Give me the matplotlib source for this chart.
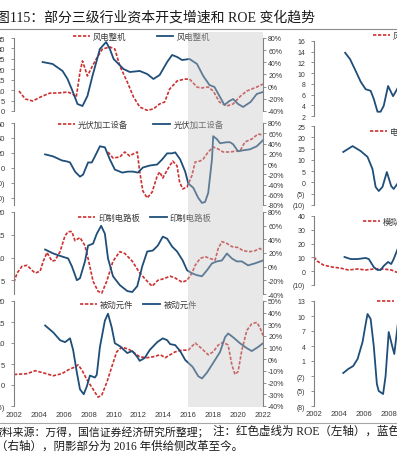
import matplotlib
matplotlib.use('Agg')
import matplotlib.pyplot as plt
from matplotlib.lines import Line2D
from matplotlib.patches import Rectangle
from matplotlib.transforms import blended_transform_factory
from matplotlib.ticker import FuncFormatter

# ---- data (year, value) ----
# left column: ROE (left axis, red dashed) and capex growth % (right axis, blue)
wind_roe_x = [2002.4, 2002.9, 2003.5, 2004.3, 2004.9, 2005.5, 2006.3, 2006.7, 2007.0, 2007.3,
              2007.5, 2007.9, 2008.3, 2008.7, 2009.1, 2009.7, 2010.1, 2010.5, 2011.1, 2011.6,
              2012.1, 2012.7, 2013.2, 2013.7, 2014.1, 2014.5, 2015.1, 2015.7, 2016.1, 2016.7,
              2017.0, 2017.6, 2018.0, 2018.5, 2019.1, 2019.6, 2020.2, 2020.7, 2021.5, 2022.0]
wind_roe = [9.6, 5.8, 4.8, 7.2, 8.6, 8.6, 9.1, 8.2, 6.7, 18.7,
            24.0, 16.8, 21.6, 25.9, 29.7, 30.7, 29.7, 21.6, 13.9, 6.7,
            1.9, 0.3, 1.0, 3.4, 4.3, 10.5, 14.4, 15.3, 15.3, 11.5,
            11.0, 11.5, 9.6, 4.3, 2.4, 3.4, 7.2, 9.6, 11.5, 12.9]
wind_capex_x = [2004.3, 2005.1, 2005.9, 2006.3, 2006.7, 2007.1, 2007.5, 2007.9, 2008.3, 2008.9,
                2009.4, 2009.7, 2010.0, 2010.4, 2010.8, 2011.3, 2012.1, 2012.7, 2013.2, 2013.7,
                2014.3, 2014.7, 2015.1, 2015.5, 2016.1, 2016.7, 2017.2, 2017.7, 2018.1, 2018.5,
                2018.9, 2019.3, 2019.6, 2020.0, 2020.4, 2021.0, 2021.5, 2022.0]
wind_capex = [40.5, 37.3, 25.8, 12.6, -7.1, -28.5, -31.8, -15.3, 17.5, 61.9,
              73.4, 61.9, 45.5, 37.3, 29.0, 24.1, 25.8, 20.8, 12.6, 19.2,
              40.5, 52.1, 48.8, 43.8, 45.5, 37.3, 17.5, 2.7, -0.5, -15.3,
              -30.1, -23.6, -20.3, -28.5, -33.4, -25.2, -12.0, -8.8]

pv_roe_x = [2009.55, 2009.95, 2010.5, 2010.9, 2011.3, 2011.55, 2011.9, 2012.1, 2012.35, 2012.7,
            2013.1, 2013.5, 2013.7, 2013.95, 2014.35, 2014.75, 2015.1, 2015.3, 2015.55, 2015.9,
            2016.3, 2016.55, 2016.95, 2017.2, 2017.6, 2018.0, 2018.4, 2018.8, 2019.35, 2019.9,
            2020.15, 2020.55, 2021.1, 2021.6, 2022.0]
pv_roe = [21.1, 13.1, 14.4, 21.1, 15.7, 18.4, 21.1, -5.7, -31.2, -40.6,
          -32.5, -11.1, -5.7, -13.8, -1.7, 9.0, 2.3, -19.1, -28.5, -25.8,
          -10.0, 7.7, 9.0, 11.7, 21.1, 27.8, 25.1, 21.1, 21.1, 22.5,
          22.5, 34.5, 38.5, 45.2, 43.9]
pv_capex_x = [2004.5, 2005.15, 2005.85, 2006.25, 2006.5, 2006.9, 2007.3, 2007.55, 2007.95, 2008.25,
              2008.5, 2008.9, 2009.3, 2009.7, 2010.1, 2010.7, 2011.15, 2011.55, 2011.95, 2012.35,
              2012.9, 2013.5, 2013.9, 2014.3, 2014.7, 2014.95, 2015.35, 2015.75, 2016.0, 2016.4,
              2016.8, 2017.1, 2017.35, 2017.6, 2017.9, 2018.0, 2018.3, 2018.55, 2019.1, 2019.35,
              2019.6, 2020.0, 2020.4, 2020.95, 2021.5, 2022.0]
pv_capex = [18.8, 14.8, 6.9, 5.0, 3.0, -14.8, -24.7, -20.7, 3.0, 3.0,
            14.8, 34.6, 32.6, 8.9, -10.9, -16.8, -14.8, -14.8, -16.8, -6.9,
            -3.0, -1.0, 8.9, 20.8, 20.8, 22.7, 8.9, -14.8, -38.0, -46.4,
            -66.2, -76.0, -74.1, -56.3, 8.9, 54.3, 48.4, 40.5, 42.5, 42.5,
            38.5, 24.7, 26.7, 28.6, 34.6, 46.4]

pcb_roe_x = [2002.0, 2002.25, 2002.65, 2003.05, 2003.45, 2003.7, 2004.1, 2004.35, 2004.65, 2005.05,
             2005.3, 2005.7, 2006.1, 2006.35, 2006.65, 2006.9, 2007.3, 2007.7, 2007.95, 2008.35,
             2008.75, 2009.05, 2009.45, 2009.95, 2010.5, 2010.9, 2011.5, 2012.1, 2012.7, 2013.1,
             2013.55, 2013.95, 2014.55, 2014.95, 2015.5, 2015.9, 2016.3, 2016.55, 2016.95, 2017.35,
             2017.75, 2018.15, 2018.4, 2018.7, 2019.1, 2019.5, 2020.0, 2020.4, 2020.95, 2021.35,
             2021.75, 2022.0]
pcb_roe = [4.6, 6.6, 8.1, 8.3, 7.2, 6.6, 7.0, 9.2, 11.1, 9.2,
           9.4, 11.3, 14.8, 15.7, 15.7, 13.7, 14.4, 12.6, 9.8, 4.8,
           2.6, 2.2, 4.8, 9.2, 11.3, 10.9, 9.2, 6.6, 4.8, 3.7,
           5.0, 5.3, 5.9, 5.5, 4.6, 5.0, 6.6, 8.3, 9.8, 10.2,
           9.8, 9.4, 12.0, 13.5, 13.1, 12.4, 12.2, 11.5, 11.3, 11.5,
           12.0, 11.5]
pcb_capex_x = [2004.5, 2005.15, 2005.85, 2006.35, 2006.65, 2007.05, 2007.3, 2007.7, 2007.95, 2008.35,
               2008.65, 2009.0, 2009.3, 2009.55, 2009.95, 2010.5, 2011.1, 2011.5, 2011.9, 2012.3,
               2012.7, 2013.15, 2013.55, 2013.95, 2014.3, 2014.7, 2015.1, 2015.55, 2015.9, 2016.3,
               2016.7, 2017.1, 2017.5, 2017.9, 2018.3, 2018.7, 2019.1, 2019.5, 2019.9, 2020.3,
               2020.8, 2021.35, 2022.0]
pcb_capex = [25.1, 19.3, 14.9, 12.0, 0.5, -19.8, -16.9, 7.7, 30.8, 33.7,
             48.2, 59.8, 48.2, 12.0, -14.0, -27.0, -35.7, -37.1, -28.5, 0.5,
             22.2, 23.6, 30.8, 43.9, 41.0, 29.4, 22.2, 9.1, -5.3, -9.7,
             -12.5, -14.0, -5.3, 4.8, 7.7, 9.1, 19.3, 12.0, 7.7, 7.7,
             1.9, 4.8, 9.1]

pas_roe_x = [2002.0, 2003.05, 2003.7, 2004.35, 2005.15, 2005.85, 2006.35, 2006.9, 2007.15, 2007.45,
             2007.85, 2008.35, 2008.75, 2009.05, 2009.45, 2009.85, 2010.25, 2010.65, 2011.15, 2011.55,
             2012.1, 2012.7, 2013.15, 2013.75, 2014.15, 2014.55, 2014.95, 2015.5, 2016.0, 2016.55,
             2016.95, 2017.35, 2017.6, 2018.0, 2018.4, 2018.8, 2019.2, 2019.5, 2019.75, 2020.0,
             2020.3, 2020.7, 2021.1, 2021.5, 2021.75, 2022.0]
pas_roe = [2.5, 2.7, 3.4, 2.9, 2.2, 2.7, 3.6, 4.3, 4.8, 3.6,
           1.3, -1.0, -2.9, -2.4, 0.6, 4.3, 7.9, 9.0, 8.6, 7.9,
           6.7, 6.5, 6.7, 7.2, 6.5, 7.2, 7.9, 8.3, 8.3, 10.0,
           9.0, 7.9, 7.2, 7.9, 9.5, 10.2, 9.5, 4.8, 2.5, 3.2,
           8.3, 13.0, 14.6, 14.9, 13.7, 11.8]
pas_capex_x = [2004.5, 2005.15, 2005.7, 2006.1, 2006.5, 2006.75, 2007.05, 2007.3, 2007.6, 2007.85,
               2008.1, 2008.5, 2008.65, 2008.9, 2009.3, 2009.55, 2009.85, 2010.1, 2010.5, 2011.1,
               2011.5, 2011.9, 2012.1, 2012.5, 2012.9, 2013.5, 2013.95, 2014.3, 2014.55, 2014.95,
               2015.35, 2015.75, 2016.35, 2016.8, 2017.1, 2017.5, 2018.0, 2018.55, 2018.95, 2019.2,
               2019.6, 2020.15, 2020.7, 2021.1, 2021.6, 2022.0]
pas_capex = [29.0, 23.1, 16.4, 14.7, 18.0, 8.0, -11.4, -25.7, -29.9, -23.2,
             -13.9, -15.6, -13.1, 10.5, 33.2, 39.1, 27.3, 13.8, 11.3, 5.4,
             7.1, 2.1, -1.3, 1.2, 8.0, 14.7, 18.0, 16.4, 13.0, 12.2,
             7.0, -0.5, -6.5, -14.5, -16.4, -11.4, -3.0, 6.3, 18.9, 22.2,
             18.9, 13.8, 9.6, 7.1, 10.5, 13.8]

# right column (cut off at the picture edge)
rc1_capex_x = [2004.5, 2004.9, 2005.35, 2005.75, 2006.15, 2006.55, 2006.8, 2007.1, 2007.35, 2007.6,
               2007.95, 2008.35, 2008.6, 2008.8]
rc1_capex = [13.8, 12.6, 10.4, 8.4, 7.0, 6.7, 5.2, 2.8, 2.8, 3.9, 7.6, 5.7, 6.7, 7.6]
rc2_capex_x = [2004.35, 2005.1, 2005.75, 2006.3, 2006.7, 2006.95, 2007.2, 2007.5, 2007.85, 2008.2,
               2008.4, 2008.8]
rc2_capex = [13.5, 16.1, 13.9, 11.3, 5.9, -2.0, -3.8, -2.0, 4.6, -1.6, -2.9, 0.2]
rc3_roe_x = [2002.0, 2002.25, 2002.75, 2003.45, 2004.1, 2004.75, 2005.5, 2006.15, 2006.8, 2007.55,
             2008.2, 2008.6, 2008.8]
rc3_roe = [10.3, 7.4, 4.5, 3.0, 2.3, 0.9, 1.6, 0.9, 1.6, 1.6, 0.9, -0.6, -1.0]
rc3_capex_x = [2004.45, 2004.95, 2005.5, 2006.15, 2006.4, 2006.8, 2007.1, 2007.35, 2007.6, 2007.95,
               2008.2, 2008.4, 2008.75]
rc3_capex = [10.3, 8.8, 8.8, 9.6, 8.8, 3.0, 0.9, 0.9, 3.8, 6.7, 5.2, 8.8, 16.8]
rc4_capex_x = [2004.35, 2004.75, 2005.15, 2005.5, 2005.9, 2006.15, 2006.3, 2006.55, 2006.8, 2007.05,
               2007.2, 2007.55, 2007.75, 2008.0, 2008.3, 2008.45, 2008.75]
rc4_capex = [-1.4, -0.6, 0.0, 1.4, 4.8, 8.4, 10.4, 9.4, 4.0, -3.6, -5.0, -5.6, -2.0, 6.8, 3.8, 2.4, 8.8]

years = list(range(2002, 2023, 2))

W, H = 397, 464
RED = '#cc3030'
BLUE = '#1f4e79'
TXT = '#3a3a3a'
SPINE = '#808080'
MIXED = ['Liberation Serif', 'Noto Sans CJK SC']

plt.rcParams['font.family'] = ['Liberation Sans', 'Noto Sans CJK SC']
fig = plt.figure(figsize=(W / 100, H / 100), dpi=100)


def box(x0, x1, top, bottom):
    # pixel box -> figure fraction
    return [x0 / W, 1 - bottom / H, (x1 - x0) / W, (bottom - top) / H]


def paren(v, pos):
    return '({:g})'.format(-v) if v < 0 else '{:g}'.format(v)


def pct(v, pos):
    return '{:.0f}%'.format(v)


def clean(ax, side):
    for s in ('top', 'bottom', 'left', 'right'):
        ax.spines[s].set_visible(s == side)
    ax.spines[side].set_color(SPINE)
    ax.spines[side].set_linewidth(0.8)
    ax.patch.set_visible(False)


def left_panel(top, bottom, roe_x, roe, capex_x, capex, name, lylim, lticks,
               rylim, rticks, leg, colsp, xlabels=False):
    ax = fig.add_axes(box(14, 263, top, bottom))
    ax2 = ax.twinx()
    l1, = ax.plot(roe_x, roe, color=RED, lw=1.2, ls=(0, (2.0, 1.0)))
    l2, = ax2.plot(capex_x, capex, color=BLUE, lw=1.3)
    ax.set_xlim(2002, 2022)
    ax.set_ylim(*lylim)
    ax.set_yticks(lticks)
    ax.yaxis.set_major_formatter(FuncFormatter(paren))
    ax2.set_ylim(*rylim)
    ax2.set_yticks(rticks)
    ax2.yaxis.set_major_formatter(FuncFormatter(pct))
    clean(ax, 'left')
    clean(ax2, 'right')
    ax.tick_params(axis='y', length=2.2, width=0.6, color=SPINE, pad=4.3,
                   labelsize=5.5, labelcolor=TXT)
    ax2.tick_params(axis='y', length=2.2, width=0.6, color=SPINE, pad=1.5,
                    labelsize=5, labelcolor=TXT)
    ax.set_xticks(years)
    ax.tick_params(axis='x', length=0, pad=3.6, labelsize=5.5, labelcolor=TXT,
                   labelbottom=xlabels)
    ax2.legend([l1, l2], [name, name], loc='center left', bbox_to_anchor=leg,
               ncol=2, frameon=False, fontsize=6, handlelength=2.0,
               handletextpad=0.4, columnspacing=colsp, borderpad=0,
               borderaxespad=0, labelcolor=TXT)
    return ax


def right_panel(top, bottom, ylim, ticks, name, leg, capex_x, capex,
                roe_x=None, roe=None, xlabels=False):
    ax = fig.add_axes(box(314, 563, top, bottom))
    if roe_x is not None:
        ax.plot(roe_x, roe, color=RED, lw=1.2, ls=(0, (2.0, 1.0)))
    l2, = ax.plot(capex_x, capex, color=BLUE, lw=1.3)
    red = Line2D([], [], color=RED, lw=1.2, ls=(0, (2.0, 1.0)))
    ax.set_xlim(2002, 2022)
    ax.set_ylim(*ylim)
    ax.set_yticks(ticks)
    ax.yaxis.set_major_formatter(FuncFormatter(paren))
    clean(ax, 'left')
    ax.tick_params(axis='y', length=2.2, width=0.6, color=SPINE, pad=4,
                   labelsize=5, labelcolor=TXT)
    ax.set_xticks(years)
    ax.tick_params(axis='x', length=0, pad=3.0, labelsize=5.5, labelcolor=TXT,
                   labelbottom=xlabels)
    ax.legend([red, l2], [name, name], loc='center left', bbox_to_anchor=leg,
              ncol=2, frameon=False, fontsize=6, handlelength=2.0,
              handletextpad=0.4, columnspacing=1.5, borderpad=0,
              borderaxespad=0, labelcolor=TXT)
    return ax


left_panel(39, 112, wind_roe_x, wind_roe, wind_capex_x, wind_capex, '风电整机',
           (0, 35), range(0, 36, 5), (-40, 80), range(-40, 81, 20), (0.237, 1.01), 3.6)
left_panel(124, 206, pv_roe_x, pv_roe, pv_capex_x, pv_capex, '光伏加工设备',
           (-50, 60), range(-40, 61, 20), (-80, 80), range(-80, 81, 20), (0.177, 0.976), 3.0)
left_panel(213, 295, pcb_roe_x, pcb_roe, pcb_capex_x, pcb_capex, '印制电路板',
           (2, 20), range(5, 21, 5), (-40, 80), range(-40, 81, 20), (0.257, 0.928), 1.2)
ax4 = left_panel(302, 407, pas_roe_x, pas_roe, pas_capex_x, pas_capex, '被动元件',
                 (-5, 20), range(-5, 21, 5), (-40, 50), range(-40, 51, 10), (0.265, 0.962), 1.2,
                 xlabels=True)

right_panel(42, 117, (2, 16), range(2, 17, 2), '风电零部件', (0.237, 1.07),
            rc1_capex_x, rc1_capex)
right_panel(127, 206, (-10, 25), range(-10, 26, 5), '电池化学品', (0.225, 0.924),
            rc2_capex_x, rc2_capex)
right_panel(217, 286, (-10, 40), range(-10, 41, 10), '模拟芯片设计', (0.197, 0.913),
            rc3_capex_x, rc3_capex, rc3_roe_x, rc3_roe)
right_panel(302, 407, (-8, 13), range(-8, 14, 3), '集成电路封测', (0.253, 0.99),
            rc4_capex_x, rc4_capex, xlabels=True)

# shading: 2016 supply-side reform to now, laid over all four left panels
shade = Rectangle((2016, 1 - 408 / H), 6, (408 - 33) / H,
                  transform=blended_transform_factory(ax4.transData, fig.transFigure),
                  facecolor=(0.77, 0.77, 0.77), alpha=0.39, lw=0, zorder=5)
fig.add_artist(shade)

# title, rules and footer
fig.text(-4 / W, 1 - 18 / H, '图115：部分三级行业资本开支增速和 ROE 变化趋势',
         family=MIXED, fontsize=10, color='#1a1a1a', va='center', ha='left')
fig.add_artist(Line2D([0, 1], [1 - 29.5 / H] * 2, transform=fig.transFigure,
                      color='#8c8c8c', lw=0.8))
fig.add_artist(Line2D([0, 1], [1 - 424 / H] * 2, transform=fig.transFigure,
                      color='#a6a6a6', lw=0.8))
fig.text(-9 / W, 1 - 432 / H, '资料来源：万得，国信证券经济研究所整理；',
         family=MIXED, fontsize=7.8, color='#1a1a1a', va='center', ha='left')
fig.text(213 / W, 1 - 432 / H, '注：红色虚线为 ROE（左轴），蓝色实线为资本开支增速',
         family=MIXED, fontsize=8.3, color='#1a1a1a', va='center', ha='left')
fig.text(-4 / W, 1 - 447 / H, '（右轴），阴影部分为 2016 年供给侧改革至今。',
         family=MIXED, fontsize=8.3, color='#1a1a1a', va='center', ha='left')

fig.savefig('out.png', dpi=100)
